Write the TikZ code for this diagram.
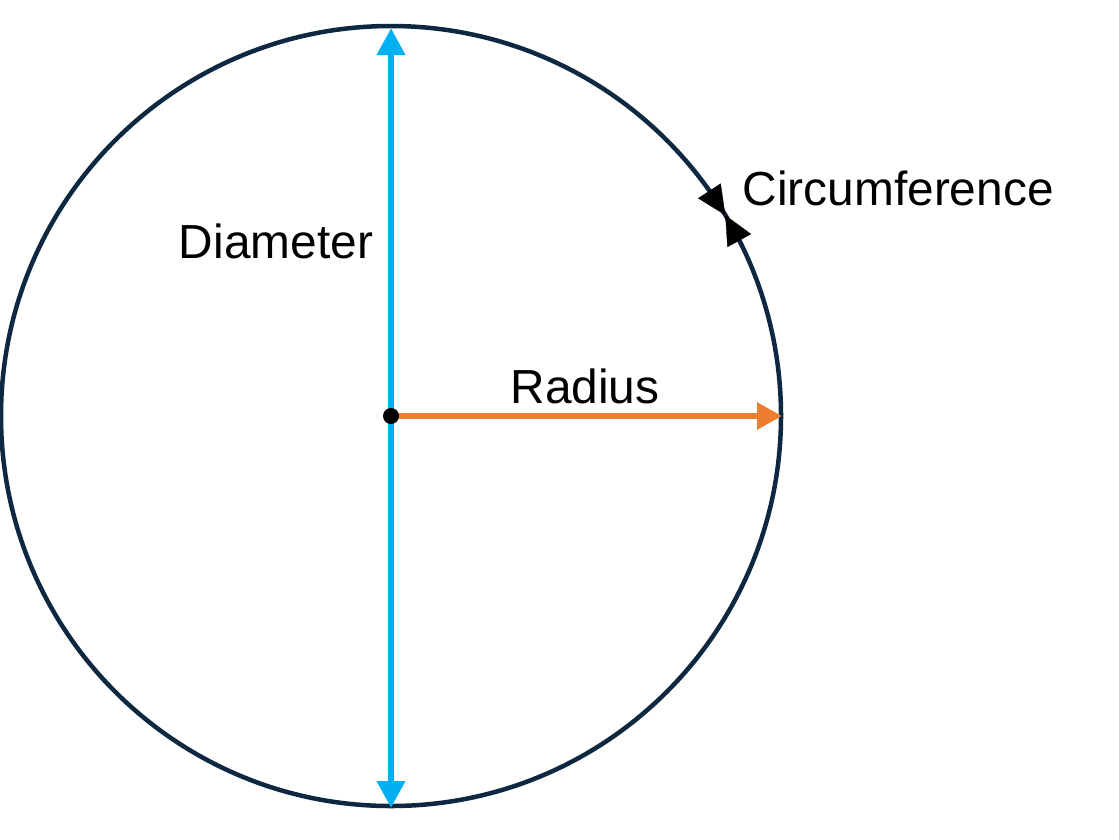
\documentclass[tikz,border=0pt]{standalone}
\usepackage{fontspec}
\setmainfont{Liberation Sans}
\usepackage{tikz}
\usetikzlibrary{arrows.meta}
\definecolor{rimcol}{HTML}{0E2841}
\definecolor{diacol}{HTML}{00B0F0}
\definecolor{radcol}{HTML}{ED7D31}
\tikzset{
  label_node/.style = {font=\fontsize{13.6}{16}\selectfont, inner sep=0pt, anchor=base},
  rim_line/.style = {draw=rimcol, line width=0.045cm},
  dia_arrow/.style = {draw=diacol, line width=0.065cm, {Triangle[length=0.27cm, width=0.27cm]}-{Triangle[length=0.27cm, width=0.27cm]}},
  rad_arrow/.style = {draw=radcol, line width=0.06cm, -{Triangle[length=0.25cm, width=0.26cm]}},
  circ_tip/.style = {draw=black, fill=black, line width=0.1pt, -{Triangle[length=0.29cm, width=0.27cm]}},
  center_dot/.style = {circle, fill=black, inner sep=0pt, minimum size=0.16cm},
}
\begin{document}
\begin{tikzpicture}[x=0.01cm, y=-0.01cm]
    \useasboundingbox (0,0) rectangle (1119,839);
    \coordinate (o) at (391,416);
    \coordinate (top) at (391,28);
    \coordinate (bot) at (391,808);
    \coordinate (rgt) at (782,416);
    % the circle
    \draw [rim_line] (o) circle (390);
    % diameter and radius
    \draw [dia_arrow] (top) -- (bot);
    \draw [rad_arrow] (o) -- (rgt);
    \node [center_dot] (dot) at (o) {};
    % circumference marks
    \coordinate (p) at ([shift={(-31:390)}]o);
    \coordinate (p_up) at ([shift={(-35.4:390)}]o);
    \coordinate (p_dn) at ([shift={(-26.6:390)}]o);
    \draw [circ_tip] (p_up) -- (p);
    \draw [circ_tip] (p_dn) -- (p);
    % labels
    \node [label_node] (dia_lbl) at (276,258) {Diameter};
    \node [label_node] (rad_lbl) at (585,403) {Radius};
    \node [label_node, anchor=base west] (circ_lbl) at (742,205) {Circumference};
\end{tikzpicture}
\end{document}
